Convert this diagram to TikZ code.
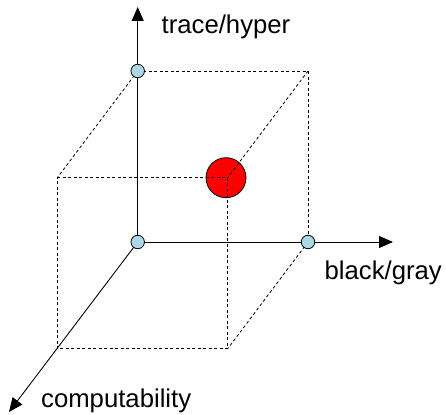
\documentclass[tikz,border=0pt]{standalone}
\usepackage{fontspec}
\setmainfont{Liberation Sans}
\usetikzlibrary{arrows.meta}
\begin{document}
\begin{tikzpicture}[x=1pt,y=-1pt,
  axis/.style={line width=0.9pt,-{Triangle[length=14pt,width=12pt]}},
  edge/.style={line width=0.8pt,dash pattern=on 3pt off 2.5pt},
  dot/.style={circle,draw,line width=0.8pt,fill={rgb,255:red,173;green,216;blue,230},minimum size=13.5pt,inner sep=0pt},
  bigdot/.style={circle,draw,line width=0.8pt,fill=red,minimum size=40pt,inner sep=0pt},
  lbl/.style={font=\fontsize{25.7}{30}\selectfont,anchor=base west,inner sep=0pt}]
\useasboundingbox (0,0) rectangle (446,414);
% cube corners
\coordinate (O) at (137.7,242);
\coordinate (T) at (137.7,71);
\coordinate (R) at (308,242);
\coordinate (TR) at (308,71);
\coordinate (FTL) at (57.3,177.7);
\coordinate (FTR) at (227.7,177.7);
\coordinate (FBL) at (57.3,348.7);
\coordinate (FBR) at (227.7,348.7);
\coordinate (Yend) at (137.7,7);
\coordinate (Xend) at (393,242);
\coordinate (Zend) at (9,412);
% red point
\node[bigdot] (P) at (226,177.7) {};
% dashed edges
\draw[edge] (T) -- (TR) -- (R);
\draw[edge] (T) -- (FTL);
\draw[edge] (TR) -- (FTR);
\draw[edge] (R) -- (FBR);
\draw[edge] (FTL) -- (FTR) -- (FBR) -- (FBL) -- cycle;
% axes
\draw[axis] (O) -- (Yend);
\draw[axis] (O) -- (Xend);
\draw[axis] (O) -- (Zend);
% dots
\node[dot] (dO) at (O) {};
\node[dot] (dT) at (T) {};
\node[dot] (dR) at (R) {};
% labels
\node[lbl] (ly) at (161.5,33.5) {trace/hyper};
\node[lbl] (lx) at (324.5,279) {black/gray};
\node[lbl] (lz) at (41,407) {computability};
\end{tikzpicture}
\end{document}
